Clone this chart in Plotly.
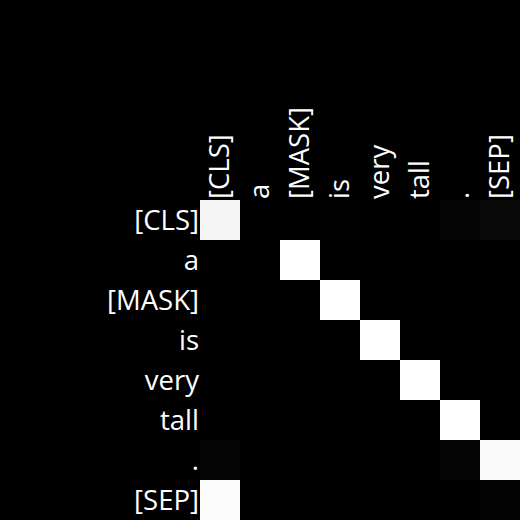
import plotly.graph_objects as go

# tokens of the sentence (rows = query, cols = key)
tokens = ["[CLS]", "a", "[MASK]", "is", "very", "tall", ".", "[SEP]"]

# attention weights
attn = [
    [0.96, 0.00, 0.00, 0.005, 0.00, 0.00, 0.02, 0.04],
    [0.00, 0.00, 1.00, 0.00, 0.00, 0.00, 0.00, 0.00],
    [0.00, 0.00, 0.00, 1.00, 0.00, 0.00, 0.00, 0.00],
    [0.00, 0.00, 0.00, 0.00, 1.00, 0.00, 0.00, 0.00],
    [0.00, 0.00, 0.00, 0.00, 0.00, 1.00, 0.00, 0.00],
    [0.00, 0.00, 0.00, 0.00, 0.00, 0.00, 1.00, 0.00],
    [0.02, 0.00, 0.00, 0.00, 0.00, 0.00, 0.02, 0.98],
    [0.99, 0.00, 0.00, 0.00, 0.00, 0.00, 0.00, 0.01],
]

fig = go.Figure(go.Heatmap(
    z=attn,
    x=list(range(len(tokens))),
    y=list(range(len(tokens))),
    colorscale=[[0, "black"], [1, "white"]],
    zmin=0, zmax=1,
    showscale=False,
    xgap=0, ygap=0,
))

fig.update_layout(
    width=520, height=520,
    margin=dict(l=200, r=0, t=200, b=0),
    paper_bgcolor="black",
    plot_bgcolor="black",
    font=dict(family="Open Sans", size=27.5, color="white"),
    xaxis=dict(
        side="top",
        tickvals=list(range(len(tokens))),
        ticktext=tokens,
        tickangle=-90,
        showgrid=False, zeroline=False, ticks="",
        range=[-0.5, 7.5],
        ticklabelstandoff=0,
    ),
    yaxis=dict(
        tickvals=list(range(len(tokens))),
        ticktext=tokens,
        autorange="reversed",
        showgrid=False, zeroline=False, ticks="",
        ticklabelstandoff=0,
    ),
)

# drop the browser's default body margin so the figure fills the window
fig.write_html(
    "out.html",
    config={"displayModeBar": False},
    post_script="document.body.style.margin='0';document.body.style.background='black';",
)
